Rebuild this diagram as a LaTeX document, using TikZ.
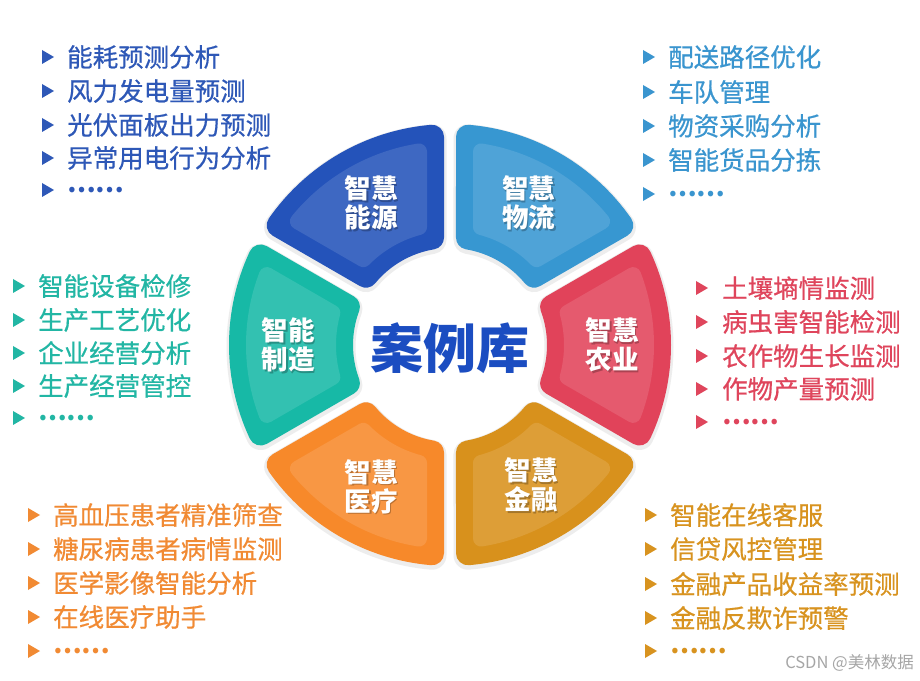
\documentclass[tikz,border=0pt]{standalone}
\usepackage{fontspec}
\newfontfamily\cjk{Noto Sans CJK SC}
\newfontfamily\cjkm[FakeBold=0.6]{Noto Sans CJK SC}
\usetikzlibrary{calc}
\definecolor{cEn}{HTML}{2453BA}
\definecolor{cLo}{HTML}{3797D1}
\definecolor{cAg}{HTML}{E1435A}
\definecolor{cFi}{HTML}{D8911C}
\definecolor{cMe}{HTML}{F7892A}
\definecolor{cMa}{HTML}{17B9A6}
\definecolor{tEn}{HTML}{2E58B7}
\definecolor{tLo}{HTML}{3A95CF}
\definecolor{tAg}{HTML}{DF455C}
\definecolor{tFi}{HTML}{D8931F}
\definecolor{tMe}{HTML}{F18A33}
\definecolor{tMa}{HTML}{22B6A4}
\definecolor{tCe}{HTML}{1B4DC1}
\newcommand\moredots{{\cjk\bfseries ……}}
% sector shrunk by the rounding radius, then stroked with round joins
\newcommand\sectorpath[3]{% #1 angle, #2 half-angle outer, #3 half-angle inner
  ({#1-#3}:\ri) -- ({#1-#2}:\ro)
  arc[start angle={#1-#2}, end angle={#1+#2}, radius=\ro]
  -- ({#1+#3}:\ri)
  arc[start angle={#1+#3}, end angle={#1-#3}, radius=\ri] -- cycle}
\newcommand\segshadow[1]{%
  \def\ro{209}\def\ri{109}
  \path[fill=black!7, draw=black!7, line width=29pt, line join=round, yshift=-2pt]
    \sectorpath{#1}{25.06}{20.50};
}
\newcommand\segment[2]{% #1 centre angle, #2 colour
  \def\ro{209}\def\ri{109}
  \path[fill=#2, draw=#2, line width=24pt, line join=round]
    \sectorpath{#1}{25.06}{20.50};
  \def\ro{196}\def\ri{122}
  \path[fill=#2!88!white, draw=#2!88!white, line width=16pt, line join=round]
    \sectorpath{#1}{20.90}{15.28};
}
\newcommand\seglabel[3]{% #1 angle, #2 name, #3 text
  \node[seglab, text=black, opacity=0.25] at ($({#1}:162)+(1.5,-1.5)$) {#3};
  \node[seglab] (#2) at ({#1}:162) {#3};
}
\newcommand\bulletlist[5]{% #1 prefix, #2 bullet x, #3 text x, #4 colour, #5 list y/text
  \foreach \yy/\txt [count=\i] in {#5} {
    \fill[#4] ({#2-6},{680-\yy+7}) -- ({#2+6},{680-\yy}) -- ({#2-6},{680-\yy-7}) -- cycle;
    \node[item, text=#4] (#1\i) at (#3,{680-\yy}) {\txt};
  }
}
\begin{document}
\begin{tikzpicture}[x=1pt,y=1pt,
  seglab/.style={text=white, font=\cjk\bfseries\fontsize{26.5}{29}\selectfont, align=center, inner sep=0pt},
  item/.style={anchor=west, inner sep=0pt, font=\cjkm\fontsize{25.5}{27}\selectfont}]
\useasboundingbox (0,0) rectangle (920,680);
\fill[white] (0,0) rectangle (920,680);
\begin{scope}[shift={(450,335)}]
  \foreach \a in {0,60,...,300} {\segshadow{\a}}
  \segment{120}{cEn}
  \segment{60}{cLo}
  \segment{0}{cAg}
  \segment{300}{cFi}
  \segment{240}{cMe}
  \segment{180}{cMa}
  \seglabel{119}{lEn}{智慧\\能源}
  \seglabel{61}{lLo}{智慧\\物流}
  \seglabel{0}{lAg}{智慧\\农业}
  \seglabel{300}{lFi}{智慧\\金融}
  \seglabel{241}{lMe}{智慧\\医疗}
  \seglabel{180}{lMa}{智能\\制造}
  \node[text=tCe, font=\cjk\bfseries\fontsize{53}{56}\selectfont, inner sep=0pt] (centre) at (0,-3) {案例库};
\end{scope}
\bulletlist{en}{48}{67}{tEn}{57/能耗预测分析, 91/风力发电量预测, 125/光伏面板出力预测, 158/异常用电行为分析, 190/\moredots}
\bulletlist{lo}{649}{668}{tLo}{57/配送路径优化, 92/车队管理, 126/物资采购分析, 160/智能货品分拣, 194/\moredots}
\bulletlist{ma}{19}{38}{tMa}{286/智能设备检修, 320/生产工艺优化, 353/企业经营分析, 386/生产经营管控, 418/\moredots}
\bulletlist{ag}{702}{722}{tAg}{288/土壤墒情监测, 322/病虫害智能检测, 356/农作物生长监测, 389/作物产量预测, 422/\moredots}
\bulletlist{me}{34}{53}{tMe}{515/高血压患者精准筛查, 549/糖尿病患者病情监测, 583/医学影像智能分析, 617/在线医疗助手, 651/\moredots}
\bulletlist{fi}{651}{670}{tFi}{515/智能在线客服, 549/信贷风控管理, 584/金融产品收益率预测, 618/金融反欺诈预警, 651/\moredots}
\node[anchor=east, inner sep=0pt, text=black!35, font=\cjk\fontsize{16.5}{18}\selectfont] (mark) at (914,17) {CSDN @美林数据};
\end{tikzpicture}
\end{document}
